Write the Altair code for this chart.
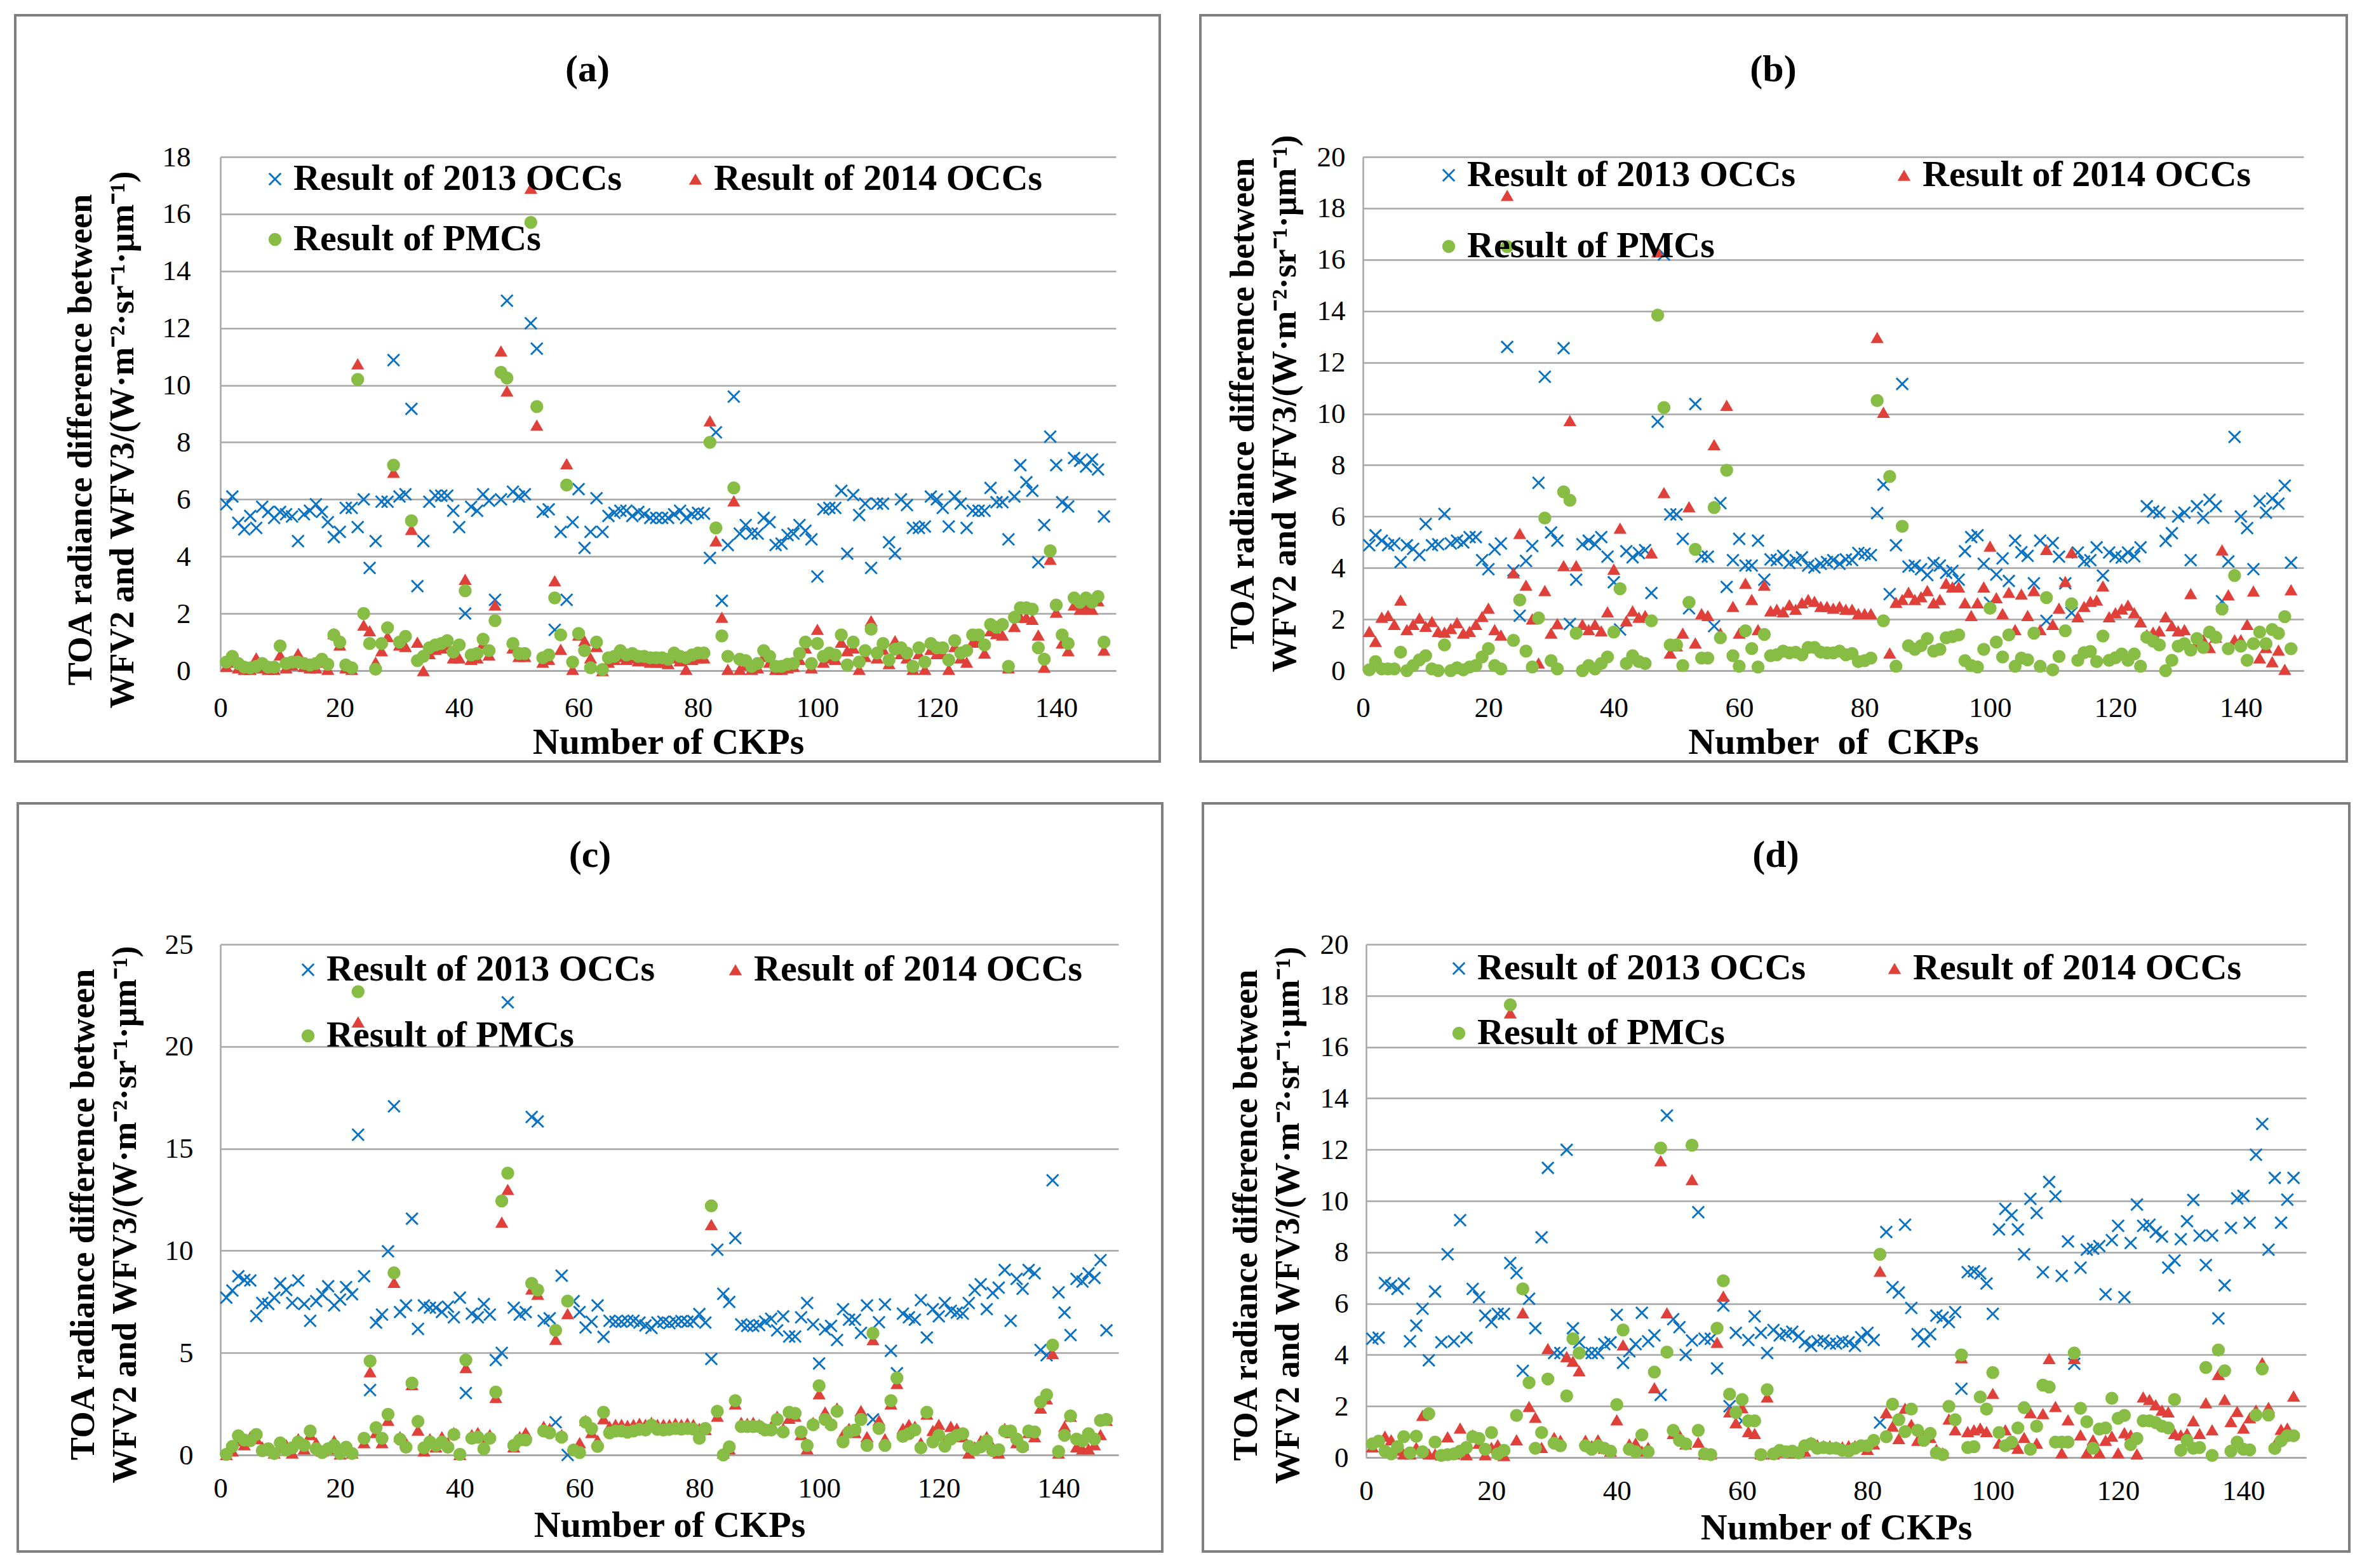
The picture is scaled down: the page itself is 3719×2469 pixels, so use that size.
import altair as alt
import pandas as pd

ckp = list(range(1, 149))
series_names = ["Result of 2013 OCCs", "Result of 2014 OCCs", "Result of PMCs"]
x_ticks = [0, 20, 40, 60, 80, 100, 120, 140]

# ---------------- panel (a) ----------------
a_2013 = [5.83, 6.1, 5.18, 4.95, 5.42, 5.0, 5.74, 5.56, 5.35, 5.56,
          5.48, 5.4, 4.54, 5.48, 5.6, 5.83, 5.56, 5.2, 4.68, 4.86,
          5.7, 5.7, 5.03, 6.0, 3.6, 4.54, 5.92, 5.92, 10.88, 6.1,
          6.18, 9.17, 2.96, 4.54, 5.92, 6.13, 6.13, 6.13, 5.6, 5.03,
          2.0, 5.74, 5.6, 6.18, 5.95, 2.48, 6.0, 12.96, 6.27, 6.1,
          6.18, 12.17, 11.28, 5.56, 5.65, 1.43, 4.86, 2.48, 5.2, 6.36,
          4.3, 4.86, 6.04, 4.86, 5.42, 5.53, 5.6, 5.6, 5.42, 5.56,
          5.48, 5.35, 5.35, 5.35, 5.35, 5.48, 5.6, 5.35, 5.48, 5.53,
          5.5, 3.95, 8.35, 2.45, 4.4, 9.6, 4.8, 5.1, 4.8, 4.8,
          5.35, 5.2, 4.4, 4.45, 4.75, 4.8, 5.1, 4.9, 4.6, 3.3,
          5.65, 5.7, 5.7, 6.3, 4.1, 6.15, 5.45, 5.85, 3.6, 5.85,
          5.85, 4.5, 4.1, 6.0, 5.8, 5.0, 5.0, 5.05, 6.1, 6.0,
          5.7, 5.05, 6.1, 5.85, 5.0, 5.6, 5.6, 5.6, 6.4, 5.9,
          5.9, 4.6, 6.1, 7.2, 6.6, 6.3, 3.8, 5.1, 8.2, 7.2,
          5.9, 5.75, 7.45, 7.35, 7.15, 7.4, 7.05, 5.4]
a_2014 = [0.15, 0.3, 0.1, 0.05, 0.05, 0.45, 0.1, 0.05, 0.05, 0.55,
          0.1, 0.2, 0.6, 0.15, 0.1, 0.1, 0.3, 0.05, 1.3, 0.9,
          0.1, 0.05, 10.75, 1.6, 1.4, 0.3, 0.7, 1.2, 6.95, 0.9,
          0.85, 4.95, 1.0, 0.0, 0.6, 0.75, 0.8, 0.9, 0.45, 0.45,
          3.2, 0.4, 0.45, 0.95, 0.55, 2.3, 11.2, 9.8, 0.8, 0.5,
          0.5, 16.9, 8.6, 0.3, 0.4, 3.15, 0.75, 7.25, 0.05, 1.25,
          1.05, 0.45, 0.85, 0.0, 0.3, 0.4, 0.5, 0.4, 0.45, 0.35,
          0.35, 0.3, 0.3, 0.3, 0.25, 0.45, 0.35, 0.05, 0.4, 0.45,
          0.45, 8.75, 4.55, 1.87, 0.05, 5.95, 0.05, 0.2, 0.05, 0.1,
          0.5, 0.3, 0.05, 0.05, 0.1, 0.15, 0.4, 0.8, 0.1, 1.45,
          0.3, 0.45, 0.4, 1.0, 0.7, 0.8, 0.05, 0.5, 1.75, 0.45,
          0.75, 0.25, 1.05, 0.6, 0.45, 0.05, 0.6, 0.05, 0.75, 0.6,
          0.6, 0.05, 0.85, 0.45, 0.3, 1.0, 1.05, 0.62, 1.4, 1.3,
          1.25, 0.1, 1.55, 1.87, 1.87, 1.8, 1.25, 0.12, 3.9, 2.05,
          0.97, 0.7, 2.3, 2.15, 2.2, 2.15, 2.45, 0.72]
a_pmc = [0.3, 0.5, 0.25, 0.12, 0.1, 0.15, 0.25, 0.12, 0.12, 0.87,
         0.25, 0.3, 0.3, 0.25, 0.2, 0.25, 0.4, 0.22, 1.25, 1.0,
         0.2, 0.1, 10.2, 2.0, 0.95, 0.05, 0.95, 1.5, 7.2, 1.0,
         1.2, 5.25, 0.35, 0.5, 0.8, 0.9, 0.95, 1.05, 0.65, 0.9,
         2.8, 0.55, 0.6, 1.1, 0.7, 1.75, 10.45, 10.25, 0.95, 0.6,
         0.6, 15.7, 9.25, 0.45, 0.55, 2.55, 1.25, 6.5, 0.3, 1.3,
         0.7, 0.1, 1.0, 0.04, 0.45, 0.5, 0.7, 0.55, 0.6, 0.5,
         0.5, 0.45, 0.45, 0.45, 0.4, 0.62, 0.5, 0.45, 0.55, 0.62,
         0.62, 8.0, 5.0, 1.22, 0.5, 6.4, 0.4, 0.35, 0.15, 0.25,
         0.7, 0.5, 0.15, 0.15, 0.22, 0.25, 0.6, 1.0, 0.25, 0.95,
         0.5, 0.62, 0.55, 1.25, 0.2, 1.0, 0.3, 0.7, 1.45, 0.62,
         0.95, 0.37, 0.75, 0.8, 0.62, 0.15, 0.8, 0.3, 0.95, 0.8,
         0.8, 0.37, 1.05, 0.62, 0.7, 1.25, 1.25, 0.9, 1.62, 1.52,
         1.62, 0.15, 1.87, 2.2, 2.2, 2.15, 0.8, 0.4, 4.2, 2.3,
         1.25, 0.95, 2.55, 2.4, 2.55, 2.4, 2.6, 1.0]

# ---------------- panel (b) ----------------
b_2013 = [4.88, 5.27, 5.06, 4.88, 4.95, 4.23, 4.88, 4.74, 4.5, 5.71,
          4.88, 4.92, 6.1, 4.95, 5.06, 4.99, 5.2, 5.2, 4.3, 3.95,
          4.72, 4.95, 12.6, 3.9, 2.14, 4.27, 4.85, 7.31, 11.44, 5.38,
          5.06, 12.55, 1.82, 3.54, 4.92, 5.06, 4.92, 5.2, 4.44, 3.44,
          1.6, 4.65, 4.41, 4.58, 4.69, 3.02, 9.69, 16.2, 6.08, 6.08,
          5.13, 2.43, 10.38, 4.44, 4.44, 1.73, 6.52, 3.26, 4.3, 5.13,
          4.09, 4.09, 5.06, 3.54, 4.33, 4.3, 4.47, 4.19, 4.3, 4.41,
          4.09, 4.02, 4.16, 4.23, 4.3, 4.16, 4.33, 4.3, 4.58, 4.55,
          4.5, 6.13, 7.24, 2.98, 4.88, 11.16, 4.05, 4.09, 3.95, 3.72,
          4.19, 4.09, 3.81, 3.88, 3.54, 4.65, 5.2, 5.27, 4.16, 2.64,
          3.74, 4.37, 3.49, 5.06, 4.61, 4.47, 3.4, 5.06, 1.94, 4.97,
          4.44, 3.4, 2.25, 4.6, 4.25, 4.3, 4.8, 3.7, 4.6, 4.45,
          4.4, 4.6, 4.45, 4.8, 6.4, 6.2, 6.15, 5.05, 5.35, 6.0,
          6.15, 4.3, 6.4, 5.95, 6.65, 6.4, 2.7, 4.25, 9.1, 6.0,
          5.55, 3.95, 6.6, 6.15, 6.7, 6.5, 7.2, 4.2]
b_2014 = [1.53, 1.14, 2.08, 2.15, 1.8, 2.75, 1.6, 1.8, 2.05, 1.73,
          1.91, 1.53, 1.5, 1.64, 1.87, 1.46, 1.53, 1.8, 2.11, 2.43,
          1.6, 1.39, 18.5, 3.81, 5.34, 3.33, 2.01, 0.3, 3.12, 1.46,
          1.83, 4.09, 9.74, 4.09, 1.8, 1.6, 1.8, 1.55, 2.29, 3.95,
          5.55, 1.94, 2.33, 2.08, 2.15, 4.58, 16.3, 6.93, 0.69, 0.97,
          1.46, 6.38, 1.08, 2.22, 2.15, 8.8, 1.46, 10.33, 2.5, 1.46,
          3.4, 2.77, 1.6, 3.33, 2.33, 2.39, 2.29, 2.57, 2.39, 2.64,
          2.77, 2.7, 2.5, 2.5, 2.43, 2.5, 2.39, 2.39, 2.22, 2.22,
          2.22, 12.97, 10.06, 0.69, 2.66, 2.77, 3.05, 2.77, 2.88, 3.12,
          2.64, 2.77, 3.4, 3.26, 3.26, 2.64, 2.15, 2.64, 3.26, 4.85,
          2.84, 2.22, 3.05, 1.6, 2.98, 2.15, 3.12, 1.6, 4.72, 1.8,
          2.43, 3.47, 4.6, 2.1, 2.5, 2.7, 2.75, 3.3, 2.1, 2.25,
          2.4, 2.55, 2.25, 1.9, 1.4, 1.5, 1.55, 2.1, 1.75, 1.55,
          1.6, 3.0, 1.1, 1.2, 0.9, 1.3, 4.7, 2.95, 1.2, 1.2,
          1.8, 3.1, 0.5, 0.9, 0.35, 0.8, 0.05, 3.15]
b_pmc = [0.03, 0.35, 0.07, 0.07, 0.07, 0.72, 0.0, 0.2, 0.42, 0.58,
         0.07, 0.0, 1.0, 0.0, 0.11, 0.03, 0.14, 0.2, 0.53, 0.86,
         0.2, 0.07, 16.5, 1.18, 2.75, 0.76, 0.14, 2.05, 5.94, 0.39,
         0.07, 6.96, 6.63, 1.46, 0.0, 0.2, 0.07, 0.28, 0.53, 1.5,
         3.19, 0.28, 0.58, 0.35, 0.28, 1.94, 13.84, 10.24, 1.0, 1.0,
         0.2, 2.66, 4.72, 0.49, 0.49, 6.35, 1.28, 7.8, 0.58, 0.17,
         1.55, 0.86, 0.14, 1.41, 0.58, 0.62, 0.76, 0.69, 0.72, 0.62,
         0.9, 0.9, 0.72, 0.69, 0.69, 0.76, 0.62, 0.67, 0.35, 0.39,
         0.49, 10.51, 1.94, 7.56, 0.17, 5.62, 0.97, 0.83, 0.97, 1.25,
         0.76, 0.83, 1.28, 1.32, 1.39, 0.39, 0.2, 0.14, 0.83, 2.43,
         1.11, 0.53, 1.39, 0.17, 0.49, 0.42, 1.46, 0.17, 2.84, 0.03,
         0.55, 1.55, 2.6, 0.4, 0.7, 0.75, 0.35, 1.35, 0.4, 0.5,
         0.65, 0.4, 0.65, 0.17, 1.3, 1.15, 1.0, 0.0, 0.4, 0.95,
         1.05, 0.8, 1.25, 0.9, 1.5, 1.3, 2.4, 0.85, 3.7, 0.95,
         0.4, 1.05, 1.5, 1.05, 1.6, 1.45, 2.1, 0.85]

# ---------------- panel (c) ----------------
c_2013 = [7.7, 8.05, 8.75, 8.57, 8.54, 6.8, 7.44, 7.39, 7.7, 8.4,
          8.08, 7.44, 8.54, 7.39, 6.57, 7.53, 7.87, 8.26, 7.32, 7.61,
          8.22, 7.87, 15.68, 8.75, 3.18, 6.48, 6.87, 9.97, 17.07, 7.0,
          7.32, 11.57, 6.17, 7.32, 7.21, 7.21, 7.0, 7.26, 6.74, 7.7,
          3.03, 6.92, 6.74, 7.39, 6.87, 4.65, 5.0, 22.16, 7.21, 6.87,
          7.0, 16.55, 16.33, 6.57, 6.69, 1.6, 8.78, 0.0, 7.53, 7.0,
          6.24, 6.52, 7.32, 5.78, 6.57, 6.52, 6.52, 6.57, 6.57, 6.48,
          6.34, 6.22, 6.48, 6.52, 6.45, 6.52, 6.55, 6.52, 6.55, 6.9,
          6.48, 4.7, 10.05, 7.89, 7.49, 10.62, 6.39, 6.32, 6.32, 6.36,
          6.53, 6.67, 6.1, 6.79, 5.8, 5.8, 6.74, 7.44, 6.39, 4.48,
          6.15, 6.32, 5.63, 7.14, 6.62, 6.62, 5.98, 7.32, 1.74, 6.5,
          7.37, 5.1, 4.0, 6.92, 6.74, 6.62, 7.58, 5.75, 7.14, 6.79,
          7.44, 7.06, 6.97, 6.92, 7.44, 8.07, 8.36, 7.14, 7.93, 8.19,
          9.06, 6.57, 8.62, 8.14, 9.06, 8.89, 5.14, 4.88, 13.45, 7.96,
          6.97, 5.87, 8.62, 8.49, 8.89, 8.67, 9.54, 6.1]
c_2014 = [0.03, 0.2, 0.7, 0.5, 0.9, 0.8, 0.4, 0.3, 0.1, 0.4,
          0.5, 0.1, 0.8, 0.3, 1.0, 0.6, 0.2, 0.3, 0.7, 0.05,
          0.3, 0.1, 21.2, 0.6, 4.08, 1.1, 0.6, 1.7, 8.45, 0.9,
          0.6, 3.45, 1.22, 0.2, 0.8, 0.4, 0.9, 0.6, 1.1, 0.03,
          4.28, 1.0, 1.1, 0.5, 1.0, 2.82, 11.4, 13.0, 0.4, 0.9,
          1.1, 8.13, 7.87, 1.4, 1.3, 5.66, 1.0, 6.92, 0.3, 0.6,
          1.7, 1.1, 0.73, 1.78, 1.4, 1.5, 1.5, 1.45, 1.5, 1.55,
          1.5, 1.6, 1.5, 1.5, 1.5, 1.55, 1.5, 1.55, 1.5, 1.3,
          1.25, 11.28, 1.9, 0.1, 0.3, 2.5, 1.6, 1.55, 1.6, 1.5,
          1.3, 1.4, 1.9, 1.3, 1.8, 1.9, 1.0, 0.3, 1.6, 3.0,
          2.1, 1.6, 2.3, 1.0, 1.3, 1.1, 2.17, 0.9, 5.65, 1.7,
          0.8, 2.5, 3.5, 1.3, 1.5, 1.4, 0.6, 2.0, 1.2, 1.5,
          0.7, 1.4, 1.3, 0.9, 0.1, 0.4, 0.7, 0.9, 0.4, 0.1,
          1.3, 1.1, 0.6, 0.5, 1.1, 0.9, 2.3, 2.75, 4.96, 0.1,
          1.4, 1.9, 0.4, 0.3, 0.3, 0.5, 1.0, 1.7]
c_pmc = [0.03, 0.42, 0.94, 0.73, 0.7, 1.0, 0.21, 0.3, 0.07, 0.59,
         0.24, 0.35, 0.64, 0.47, 1.17, 0.3, 0.12, 0.3, 0.47, 0.07,
         0.38, 0.07, 22.68, 0.82, 4.6, 1.34, 0.82, 1.99, 8.92, 0.77,
         0.38, 3.52, 1.64, 0.35, 0.64, 0.47, 0.64, 0.38, 1.0, 0.03,
         4.65, 0.82, 0.87, 0.3, 0.82, 3.08, 12.44, 13.8, 0.47, 0.73,
         0.73, 8.4, 8.08, 1.17, 1.08, 6.1, 0.87, 7.53, 0.24, 0.12,
         1.6, 1.29, 0.42, 2.09, 1.08, 1.17, 1.17, 1.11, 1.17, 1.25,
         1.22, 1.46, 1.25, 1.22, 1.25, 1.3, 1.27, 1.3, 1.27, 0.82,
         1.3, 12.2, 2.14, 0.0, 0.4, 2.66, 1.39, 1.39, 1.39, 1.39,
         1.22, 1.22, 1.74, 1.13, 2.09, 2.04, 1.13, 0.47, 1.48, 3.39,
         1.74, 1.48, 2.14, 0.64, 1.13, 1.22, 1.74, 0.47, 5.96, 1.3,
         0.47, 2.66, 3.77, 0.91, 1.04, 1.22, 0.35, 2.09, 0.64, 0.96,
         0.43, 0.78, 0.96, 1.04, 0.43, 0.26, 0.4, 0.69, 0.22, 0.26,
         1.17, 1.17, 0.78, 0.4, 1.17, 1.13, 2.6, 2.95, 5.38, 0.17,
         0.96, 1.91, 0.78, 0.69, 1.04, 0.78, 1.69, 1.74]

# ---------------- panel (d) ----------------
d_2013 = [4.63, 4.67, 6.8, 6.7, 6.57, 6.78, 4.53, 5.14, 5.8, 3.79,
          6.47, 4.49, 7.92, 4.53, 9.25, 4.67, 6.57, 6.25, 5.53, 5.28,
          5.6, 5.6, 7.58, 7.19, 3.38, 6.19, 5.04, 8.58, 11.29, 4.07,
          4.07, 11.99, 5.04, 4.49, 4.07, 4.07, 4.07, 4.42, 4.49, 5.56,
          3.69, 4.14, 4.42, 5.64, 4.53, 4.76, 2.44, 13.33, 5.39, 5.08,
          4.0, 4.56, 9.56, 4.63, 4.63, 3.47, 5.92, 2.0, 4.86, 1.43,
          4.58, 5.5, 4.86, 4.07, 4.97, 4.76, 4.83, 4.9, 4.72, 4.49,
          4.35, 4.53, 4.56, 4.44, 4.44, 4.53, 4.49, 4.35, 4.69, 4.86,
          4.58, 1.36, 8.79, 6.64, 6.43, 9.07, 5.83, 4.81, 4.53, 4.81,
          5.53, 5.46, 5.28, 5.67, 2.68, 7.22, 7.26, 7.17, 6.78, 5.6,
          8.89, 9.69, 9.44, 8.89, 7.92, 10.08, 9.53, 7.22, 10.74, 10.18,
          7.08, 8.42, 3.65, 7.4, 8.1, 8.14, 8.24, 6.36, 8.47, 9.03,
          6.25, 8.36, 9.86, 9.03, 9.07, 8.79, 8.61, 7.4, 7.68, 8.51,
          9.21, 10.04, 8.65, 7.5, 8.65, 5.42, 6.71, 8.95, 10.1, 10.2,
          9.15, 11.8, 13.0, 8.1, 10.9, 9.15, 10.05, 10.9]
d_2014 = [0.42, 0.67, 0.83, 0.69, 0.28, 0.14, 0.14, 0.39, 1.64, 0.14,
          0.14, 0.1, 0.81, 0.14, 1.15, 0.11, 0.88, 0.56, 0.11, 0.39,
          0.5, 0.08, 17.33, 0.69, 5.64, 1.99, 1.57, 0.39, 4.25, 0.78,
          0.67, 3.93, 3.75, 3.38, 0.67, 0.46, 0.69, 0.36, 0.25, 1.47,
          4.39, 0.53, 0.56, 0.25, 0.39, 2.72, 11.57, 5.64, 0.94, 0.88,
          0.53, 10.83, 0.6, 0.14, 0.14, 4.49, 6.29, 1.78, 1.36, 1.94,
          1.01, 0.94, 0.14, 2.36, 0.14, 0.22, 0.25, 0.18, 0.22, 0.25,
          0.6, 0.5, 0.46, 0.46, 0.42, 0.42, 0.46, 0.46, 0.46, 0.32,
          0.53, 7.26, 1.75, 1.22, 0.74, 1.92, 1.29, 0.67, 0.83, 0.78,
          0.32, 0.18, 1.5, 1.08, 3.89, 1.01, 1.08, 1.15, 1.01, 2.5,
          0.56, 1.08, 0.53, 0.36, 0.78, 1.75, 0.56, 1.71, 3.86, 1.99,
          0.18, 1.47, 3.86, 0.88, 0.18, 0.69, 0.18, 0.67, 0.83, 0.18,
          0.97, 0.88, 0.14, 2.36, 2.26, 2.06, 1.85, 1.78, 0.94, 0.88,
          0.94, 1.43, 0.94, 2.13, 1.08, 3.24, 2.26, 1.4, 1.8, 1.15,
          1.55, 1.85, 3.7, 1.95, 0.5, 1.1, 1.15, 2.4]
d_pmc = [0.53, 0.64, 0.25, 0.14, 0.42, 0.81, 0.18, 0.83, 0.22, 1.71,
         0.6, 0.08, 0.11, 0.14, 0.25, 0.39, 0.81, 0.74, 0.32, 0.97,
         0.14, 0.28, 17.64, 1.64, 6.57, 2.92, 0.36, 0.97, 3.06, 0.56,
         0.46, 2.4, 4.63, 4.07, 0.46, 0.32, 0.46, 0.36, 0.25, 2.06,
         4.97, 0.32, 0.22, 0.88, 0.22, 3.33, 12.06, 4.11, 1.06, 0.67,
         0.53, 12.17, 1.06, 0.14, 0.11, 5.04, 6.89, 2.47, 1.75, 2.26,
         1.43, 1.43, 0.11, 2.64, 0.14, 0.28, 0.22, 0.25, 0.18, 0.46,
         0.53, 0.36, 0.39, 0.36, 0.36, 0.28, 0.25, 0.36, 0.46, 0.46,
         0.67, 7.92, 0.81, 2.08, 1.47, 1.01, 1.89, 1.06, 0.67, 0.94,
         0.18, 0.11, 1.99, 1.47, 4.0, 0.39, 0.42, 2.36, 1.89, 3.31,
         0.97, 0.46, 0.6, 1.15, 1.94, 0.32, 1.22, 2.82, 2.75, 0.6,
         0.6, 0.6, 4.07, 1.92, 1.39, 0.36, 1.11, 1.15, 2.31, 1.53,
         1.64, 0.5, 0.74, 1.43, 1.43, 1.36, 1.22, 1.15, 2.26, 0.28,
         0.67, 0.36, 0.39, 3.51, 0.08, 4.19, 3.38, 0.25, 0.6, 0.32,
         0.3, 1.65, 3.45, 1.65, 0.35, 0.65, 0.85, 0.85]

for arr in (a_2013, a_2014, a_pmc, b_2013, b_2014, b_pmc,
            c_2013, c_2014, c_pmc, d_2013, d_2014, d_pmc):
    assert len(arr) == 148, len(arr)

SERIF = "Liberation Serif"
X_SHAPE = ("M-0.8,-1L0,-0.2L0.8,-1L1,-0.8L0.2,0L1,0.8L0.8,1L0,0.2"
           "L-0.8,1L-1,0.8L-0.2,0L-1,-0.8Z")
colors = ["#0a72c2", "#e0403a", "#88bd45"]
shapes = [X_SHAPE, "triangle-up", "circle"]
GRID = "#a6a6a6"
Y_TITLE = ["TOA radiance difference between",
           "WFV2 and WFV3/(W\u00b7m\u207b\u00b2\u00b7sr\u207b\u00b9\u00b7\u03bcm\u207b\u00b9)"]


def make_panel(letter, vals, ymax, ystep, w, h, border, leg, ytx, yty,
               ylab_pad, xlab_base, xtitle_base, xtitle, tpos):
    rows = []
    for name, v in zip(series_names, vals):
        for c, y in zip(ckp, v):
            rows.append({"ckp": c, "value": y, "series": name})
    df = pd.DataFrame(rows)

    legend = alt.Legend(
        title=None, orient="none", legendX=leg[0], legendY=leg[1],
        direction="horizontal", columns=2, columnPadding=leg[2],
        rowPadding=leg[3], padding=0,
        labelFont=SERIF, labelFontSize=58, labelFontWeight="bold",
        labelColor="black", labelLimit=2000, labelOffset=0,
        symbolSize=420, symbolStrokeWidth=0, symbolOpacity=1,
    )

    pts = alt.Chart(df).mark_point(
        filled=True, size=420, opacity=1, strokeWidth=0
    ).encode(
        x=alt.X("ckp:Q",
                scale=alt.Scale(domain=[0, 150], nice=False, zero=False),
                axis=alt.Axis(values=x_ticks, title=xtitle, grid=False,
                              ticks=False, tickSize=0, domain=True,
                              domainColor=GRID, domainWidth=2.5,
                              labelFont=SERIF, labelFontSize=45,
                              labelColor="black", labelBaseline="alphabetic",
                              labelPadding=xlab_base, labelFlush=False,
                              labelOverlap=False,
                              titleFont=SERIF, titleFontSize=58,
                              titleFontWeight="bold", titleColor="black",
                              titleBaseline="alphabetic", titleAlign="center",
                              titleX=w / 2, titleY=xtitle_base)),
        y=alt.Y("value:Q",
                scale=alt.Scale(domain=[0, ymax], nice=False),
                axis=alt.Axis(values=list(range(0, ymax + 1, ystep)),
                              title=Y_TITLE, grid=True, gridColor=GRID,
                              gridWidth=2.5, ticks=False, tickSize=0,
                              domain=True, domainColor=GRID, domainWidth=2.5,
                              labelFont=SERIF, labelFontSize=45,
                              labelColor="black", labelPadding=ylab_pad,
                              labelFlush=False, labelOverlap=False,
                              titleFont=SERIF, titleFontSize=54,
                              titleFontWeight="bold", titleColor="black",
                              titleAngle=270, titleBaseline="alphabetic",
                              titleAlign="center", titleX=ytx, titleY=yty,
                              titleLineHeight=66)),
        color=alt.Color("series:N",
                        scale=alt.Scale(domain=series_names, range=colors),
                        legend=legend),
        shape=alt.Shape("series:N",
                        scale=alt.Scale(domain=series_names, range=shapes),
                        legend=legend),
    ).properties(width=w, height=h)

    frame = alt.Chart(pd.DataFrame({"f": [0]})).mark_rect(
        fillOpacity=0, stroke="#7f7f7f", strokeWidth=4
    ).encode(x=alt.value(border[0]), x2=alt.value(border[1]),
             y=alt.value(border[2]), y2=alt.value(border[3]))

    ttl = alt.Chart(pd.DataFrame({"t": ["(" + letter + ")"]})).mark_text(
        font=SERIF, fontSize=60, fontWeight="bold", color="black",
        align="center", baseline="middle"
    ).encode(x=alt.value(tpos[0]), y=alt.value(tpos[1]), text="t:N")

    return alt.layer(frame, pts, ttl)


pa = make_panel("a", (a_2013, a_2014, a_pmc), 18, 2, 1410, 809,
                (-323, 1479, -223, 952), (57, 6, 86, 37),
                -204, 445, 47, 72, 130, "Number of CKPs", (578, -137))
pb = make_panel("b", (b_2013, b_2014, b_pmc), 20, 2, 1481, 809,
                (-256, 1549, -223, 952), (106, 0, 141, 54),
                -173, 388, 28, 72, 130, "Number\u00a0 of\u00a0 CKPs", (646, -137))
pc = make_panel("c", (c_2013, c_2014, c_pmc), 25, 5, 1414, 804,
                (-319, 1483, -222, 956), (109, 11, 97, 46),
                -200, 425, 43, 66, 128, "Number of CKPs", (582, -140))
pd_ = make_panel("d", (d_2013, d_2014, d_pmc), 20, 2, 1480, 808,
                 (-257, 1548, -222, 956), (117, 9, 110, 44),
                 -173, 426, 28, 66, 128, "Number of CKPs", (645, -140))


def indep(ch):
    return ch.resolve_scale(
        x="independent", y="independent", color="independent", shape="independent"
    ).resolve_axis(x="independent", y="independent").resolve_legend(
        color="independent", shape="independent")


top = indep(alt.hconcat(pa, pb, spacing=60))
bottom = indep(alt.hconcat(pc, pd_, spacing=60))
chart = indep(alt.vconcat(top, bottom, spacing=62)).properties(
    padding={"left": 14, "top": 14, "right": 10, "bottom": 10},
    background="white",
).configure_view(strokeWidth=0)

chart.save("out.html", embed_options={"renderer": "svg", "actions": False})
